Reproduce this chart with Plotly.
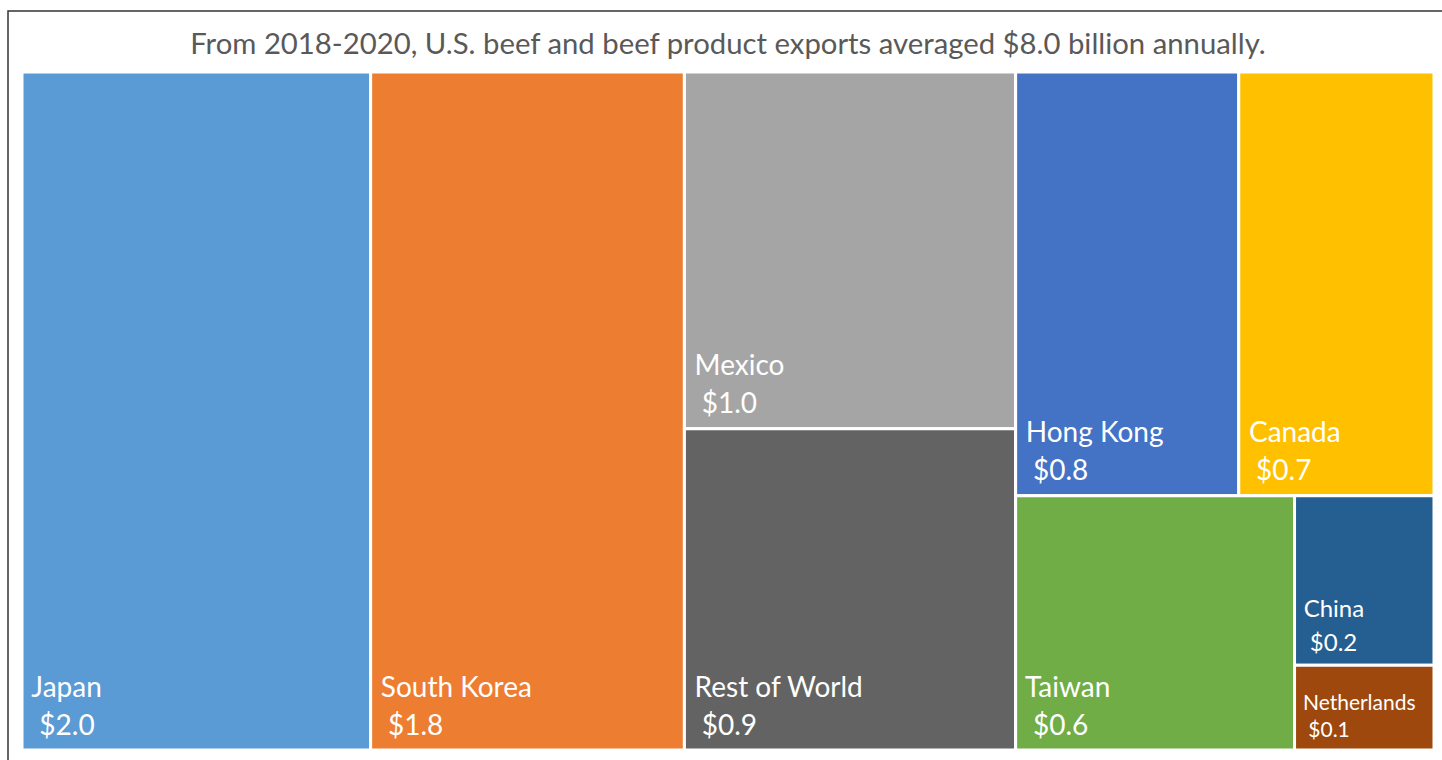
import plotly.graph_objects as go

# U.S. beef and beef product exports by destination, 2018-2020 average (billion USD)
countries = ["Japan", "South Korea", "Mexico", "Rest of World", "Hong Kong",
             "Canada", "Taiwan", "China", "Netherlands"]
values = [2.0, 1.8, 1.0, 0.9, 0.8, 0.7, 0.6, 0.2, 0.1]
colors = ["#5B9BD5", "#ED7D31", "#A5A5A5", "#636363", "#4472C4",
          "#FFC000", "#70AD47", "#255E91", "#9E480E"]

# grouping used to arrange the tiles into columns / rows
groups = ["g1", "g2", "g3", "g4", "g5"]
group_parents = ["", "", "g2", "g2", "g4"]
country_parents = ["", "", "g1", "g1", "g3", "g3", "g4", "g5", "g5"]

# label font size and line step (px) per tile
label_sizes = [28, 28, 28, 28, 28, 28, 28, 24, 21]
line_steps = [38, 38, 38, 38, 38, 38, 38, 34, 27]

NB = "\u00a0"


def label_template(fs):
    big = "<span style='font-size:%dpx'>%s</span>"
    return (big % (fs, NB + "%{label}") + "<br>"
            + (NB + "<br>") * 3
            + big % (fs, NB * 2 + "$%{value:.1f}")
            + "<br><span style='font-size:14px'>" + NB + "</span>")


ids = countries + groups
parents = country_parents + group_parents
vals = values + [0] * len(groups)
fill = colors + ["#FFFFFF"] * len(groups)
templates = [label_template(fs) for fs in label_sizes] + [""] * len(groups)
# base font size sets the spacing between lines (1.3em per line, 4 lines apart)
base_sizes = [step / 5.2 for step in line_steps] + [10] * len(groups)

fig = go.Figure(go.Treemap(
    ids=ids,
    labels=ids,
    parents=parents,
    values=vals,
    branchvalues="remainder",
    sort=False,
    tiling=dict(packing="slice-dice", pad=0),
    marker=dict(colors=fill, line=dict(color="#FFFFFF", width=3),
                pad=dict(t=0, l=0, r=0, b=0)),
    texttemplate=templates,
    textposition="bottom left",
    textfont=dict(family="Lato", color="#FFFFFF", size=base_sizes),
    pathbar=dict(visible=False),
    hoverinfo="skip",
))

W, H = 1442, 760
ml, mr, mt, mb = 22, 8, 72, 10
pw, ph = W - ml - mr, H - mt - mb

# outer frame (pixel positions converted to paper units)
fx0 = (8 - ml) / pw
fx1 = (W + 5 - ml) / pw
fy1 = (H - mb - 11) / ph
fy0 = (H - mb - (H + 5)) / ph

fig.update_layout(
    width=W, height=H,
    margin=dict(l=ml, r=mr, t=mt, b=mb),
    paper_bgcolor="#FFFFFF",
    title=dict(
        text="From 2018-2020, U.S. beef and beef product exports averaged $8.0 billion annually.",
        x=0.5, xref="paper", xanchor="center",
        y=1 - 44 / H, yref="container", yanchor="middle",
        font=dict(family="Lato", size=29.3, color="#595959"),
    ),
    shapes=[dict(type="rect", xref="paper", yref="paper",
                 x0=fx0, x1=fx1, y0=fy0, y1=fy1,
                 line=dict(color="#333333", width=1.5), fillcolor="rgba(0,0,0,0)")],
)

fig.write_html("out.html")
